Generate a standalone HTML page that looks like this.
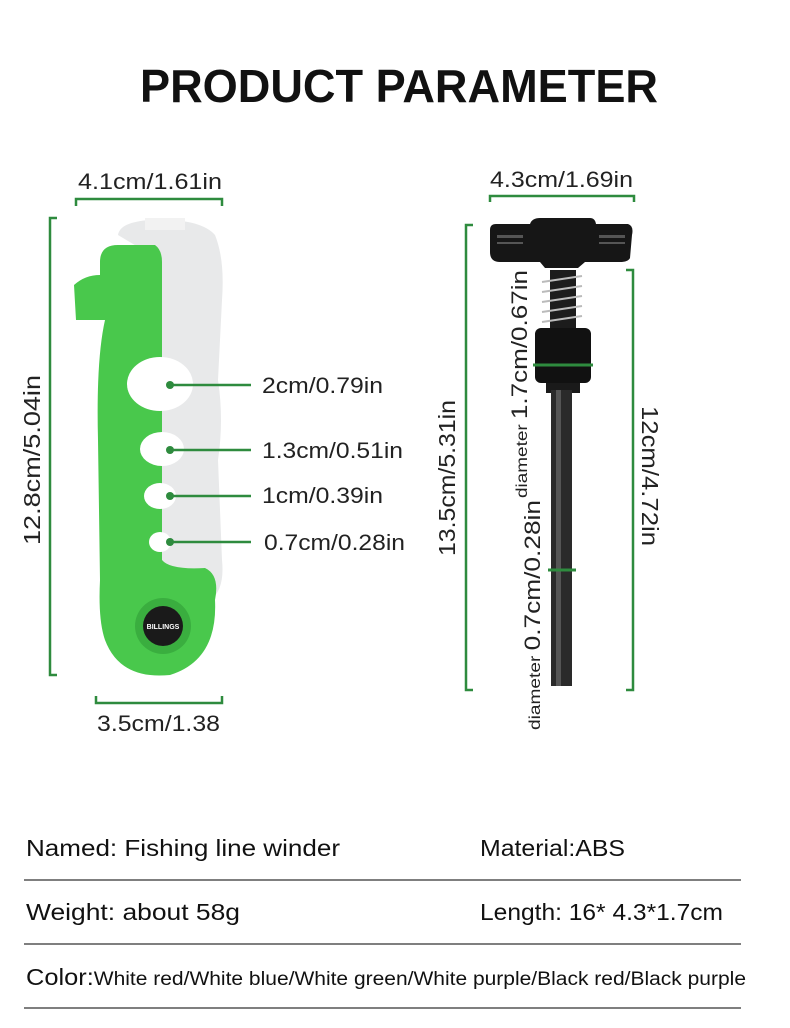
<!DOCTYPE html>
<html><head><meta charset="utf-8"><style>
html,body{margin:0;padding:0;background:#fff;}
svg{display:block;font-family:"Liberation Sans",sans-serif;}
</style></head><body>
<svg width="790" height="1028" viewBox="0 0 790 1028">
<rect width="790" height="1028" fill="#fff"/>
<text x="140" y="102" font-size="46" fill="#111" font-weight="bold" textLength="518" lengthAdjust="spacingAndGlyphs">PRODUCT PARAMETER</text>

<!-- Left dimensions -->
<g stroke="#2e8b3e" stroke-width="2.5" fill="none">
<path d="M76 206 V199 H222 V206"/>
<path d="M57 218 H50 V675 H57"/>
<path d="M96 696 V703 H222 V696"/>
</g>
<text x="78" y="189" font-size="22" fill="#222" textLength="144" lengthAdjust="spacingAndGlyphs">4.1cm/1.61in</text>
<text x="97" y="731" font-size="22" fill="#222" textLength="123" lengthAdjust="spacingAndGlyphs">3.5cm/1.38</text>
<text transform="translate(40,545) rotate(-90)" font-size="23" fill="#222" textLength="170" lengthAdjust="spacingAndGlyphs">12.8cm/5.04in</text>

<!-- winder -->
<path d="M118 235 Q120 222 150 220 Q200 218 215 235 Q225 260 222 300 L218 380 Q224 420 218 460 L222 560 Q225 590 210 600 L160 600 L160 260 Z" fill="#e8e9ea"/>
<rect x="145" y="218" width="40" height="12" fill="#f2f2f2"/>
<path d="M100 262 Q100 245 118 245 L155 245 Q162 250 162 262 L162 560 Q170 570 205 568 Q220 575 215 600 Q218 660 170 675 Q120 680 105 640 Q98 620 100 580 L98 440 Q96 360 105 320 L76 320 L74 285 Q85 275 100 275 Z" fill="#49c84c"/>
<circle cx="163" cy="626" r="28" fill="#3aae3f"/>
<circle cx="163" cy="626" r="20" fill="#1a1a1a"/>
<text x="163" y="629" font-size="7" text-anchor="middle" fill="#fff" font-weight="bold">BILLINGS</text>
<g fill="#fff">
<ellipse cx="160" cy="384" rx="33" ry="27"/>
<ellipse cx="162" cy="449" rx="22" ry="17"/>
<ellipse cx="160" cy="496" rx="16" ry="13"/>
<ellipse cx="160" cy="542" rx="11" ry="10"/>
</g>
<g stroke="#2e8b3e" stroke-width="2.5">
<line x1="170" y1="385" x2="251" y2="385"/>
<line x1="170" y1="450" x2="251" y2="450"/>
<line x1="170" y1="496" x2="251" y2="496"/>
<line x1="170" y1="542" x2="251" y2="542"/>
</g>
<g fill="#2e8b3e"><circle cx="170" cy="385" r="4"/><circle cx="170" cy="450" r="4"/><circle cx="170" cy="496" r="4"/><circle cx="170" cy="542" r="4"/></g>
<g font-size="22" fill="#222">
<text x="262" y="393" textLength="121" lengthAdjust="spacingAndGlyphs">2cm/0.79in</text>
<text x="262" y="458" textLength="141" lengthAdjust="spacingAndGlyphs">1.3cm/0.51in</text>
<text x="262" y="503" textLength="121" lengthAdjust="spacingAndGlyphs">1cm/0.39in</text>
<text x="264" y="550" textLength="141" lengthAdjust="spacingAndGlyphs">0.7cm/0.28in</text>
</g>

<!-- Right dimensions -->
<g stroke="#2e8b3e" stroke-width="2.5" fill="none">
<path d="M490 202 V196 H634 V202"/>
<path d="M473 225 H466 V690 H473"/>
<path d="M626 270 H633 V690 H626"/>
</g>
<text x="490" y="187" font-size="22" fill="#222" textLength="143" lengthAdjust="spacingAndGlyphs">4.3cm/1.69in</text>
<text transform="translate(455,556) rotate(-90)" font-size="23" fill="#222" textLength="156" lengthAdjust="spacingAndGlyphs">13.5cm/5.31in</text>
<text transform="translate(642,406) rotate(90)" font-size="23" fill="#222" textLength="140" lengthAdjust="spacingAndGlyphs">12cm/4.72in</text>

<!-- knob -->
<path d="M490 230 Q490 224 496 224 L530 224 Q532 218 540 218 L590 218 Q595 218 596 224 L628 224 Q634 226 632 235 L630 258 Q628 262 620 262 L585 262 L578 268 L545 268 L540 262 L500 262 Q490 262 490 252 Z" fill="#161616"/>
<g fill="#555"><rect x="497" y="235" width="26" height="3"/><rect x="497" y="242" width="26" height="2"/><rect x="599" y="235" width="26" height="3"/><rect x="599" y="242" width="26" height="2"/></g>
<rect x="550" y="270" width="26" height="58" fill="#1c1c1c"/>
<g stroke="#bbb" stroke-width="2" fill="none">
<path d="M542 282 L582 276 M542 292 L582 286 M542 302 L582 296 M542 312 L582 306 M542 322 L582 316"/>
</g>
<rect x="535" y="328" width="56" height="55" rx="6" fill="#111"/>
<rect x="546" y="383" width="34" height="10" fill="#1a1a1a"/>
<rect x="551" y="390" width="21" height="296" fill="#2a2a2a"/>
<rect x="556" y="390" width="5" height="296" fill="#555"/>
<line x1="533" y1="365" x2="593" y2="365" stroke="#2e8b3e" stroke-width="3"/>
<line x1="548" y1="570" x2="576" y2="570" stroke="#2e8b3e" stroke-width="3"/>
<text transform="translate(527,498) rotate(-90)" font-size="22" fill="#222" textLength="228" lengthAdjust="spacingAndGlyphs"><tspan font-size="16">diameter </tspan>1.7cm/0.67in</text>
<text transform="translate(540,730) rotate(-90)" font-size="22" fill="#222" textLength="230" lengthAdjust="spacingAndGlyphs"><tspan font-size="16">diameter  </tspan>0.7cm/0.28in</text>

<!-- table -->
<g font-size="23" fill="#111">
<text x="26" y="856" textLength="314" lengthAdjust="spacingAndGlyphs">Named: Fishing line winder</text>
<text x="480" y="856" textLength="145" lengthAdjust="spacingAndGlyphs">Material:ABS</text>
<text x="26" y="920" textLength="214" lengthAdjust="spacingAndGlyphs">Weight: about 58g</text>
<text x="480" y="920" textLength="243" lengthAdjust="spacingAndGlyphs">Length: 16* 4.3*1.7cm</text>
<text x="26" y="985" textLength="720" lengthAdjust="spacingAndGlyphs">Color:<tspan font-size="19">White red/White blue/White green/White purple/Black red/Black purple</tspan></text>
</g>
<g stroke="#333" stroke-width="1.3">
<line x1="24" y1="880" x2="741" y2="880"/>
<line x1="24" y1="944" x2="741" y2="944"/>
<line x1="24" y1="1008" x2="741" y2="1008"/>
</g>
</svg>
</body></html>
